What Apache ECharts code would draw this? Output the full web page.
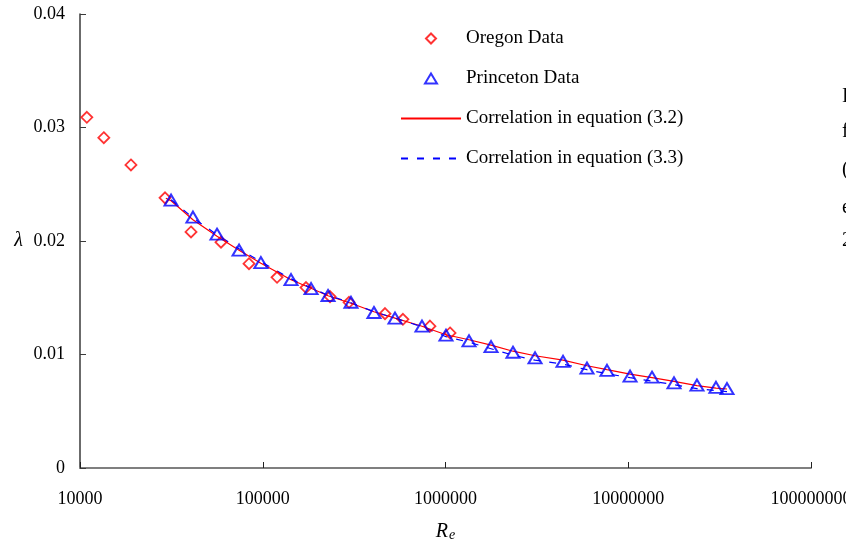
<!DOCTYPE html>
<html>
<head>
<meta charset="utf-8">
<script src="https://cdn.jsdelivr.net/npm/echarts@6/dist/echarts.min.js"></script>
<style>
  html, body { margin: 0; padding: 0; background: #fff; }
  #chart { width: 846px; height: 546px; }
</style>
</head>
<body>
<div id="chart"></div>
<script>
// Friction factor against Reynolds number (log x axis)
const xTickLabels = ['10000', '100000', '1000000', '10000000', '100000000'];
const yTickLabels = ['0', '0.01', '0.02', '0.03', '0.04'];

const seriesNames = [
  'Oregon Data',
  'Princeton Data',
  'Correlation in equation (3.2)',
  'Correlation in equation (3.3)'
];

const oregonRe = [10900, 13500, 19000, 29200, 40500, 59100, 84100, 119700, 172500,
  233400, 296500, 466600, 585000, 822000, 1059000];
const oregonLambda = [0.0309, 0.0291, 0.0267, 0.0238, 0.0208, 0.0199, 0.0180, 0.0168, 0.0159,
  0.0151, 0.0146, 0.0136, 0.0131, 0.0125, 0.0119];

const princetonRe = [31500, 41500, 56200, 74200, 97700, 142800, 183800, 227600, 304000,
  406000, 529300, 743700, 1006000, 1345000, 1775000, 2340000, 3090000, 4397000,
  5946000, 7650000, 10230000, 13490000, 17800000, 23770000, 30200000, 34700000];
const princetonLambda = [0.0236, 0.0221, 0.0206, 0.0192, 0.0181, 0.0166, 0.0158, 0.0152, 0.0146,
  0.0137, 0.0132, 0.0125, 0.0117, 0.0112, 0.0107, 0.0102, 0.0097, 0.0094,
  0.0088, 0.0086, 0.0081, 0.0080, 0.0075, 0.0073, 0.0071, 0.0070];

const eq32Re = [29500, 31500, 41500, 56200, 74200, 97700, 142800, 183800, 227600, 304000,
  406000, 529300, 743700, 1006000, 1345000, 1775000, 2340000, 3090000, 4397000,
  5946000, 7650000, 10230000, 13490000, 17800000, 23770000, 30200000, 34700000];
const eq32Lambda = [0.02376, 0.02354, 0.02187, 0.02041, 0.01918, 0.01804, 0.01658, 0.01584, 0.01518,
  0.01452, 0.01377, 0.0132, 0.01249, 0.01174, 0.0113, 0.01082, 0.01029, 0.00989, 0.0095,
  0.00901, 0.00866, 0.00827, 0.00796, 0.00763, 0.00725, 0.00703, 0.00696];

const eq33Re = princetonRe;
const eq33Lambda = [0.02363, 0.02205, 0.02055, 0.01931, 0.01817, 0.01667, 0.01588, 0.01522, 0.01456,
  0.01377, 0.0132, 0.01245, 0.01157, 0.01108, 0.01051, 0.00994, 0.0095, 0.00915,
  0.00866, 0.00831, 0.00796, 0.00765, 0.00734, 0.00699, 0.00681, 0.00673];

// Clipped text from the neighbouring column
const sideLetters = ['I', 'f', '(', 'e', '2'];
const sideLetterTops = [87, 122, 160, 198, 231];

const zip = (xs, ys) => xs.map((x, i) => [x, ys[i]]);
const FONT = '"Liberation Serif", "Times New Roman", serif';

const chart = echarts.init(document.getElementById('chart'), null, { renderer: 'canvas' });

const legendText = { fontFamily: FONT, fontSize: 19, color: '#000' };
const legendBase = { orient: 'vertical', padding: 0, selectedMode: false, itemGap: 0 };

chart.setOption({
  backgroundColor: '#fff',
  animation: false,
  textStyle: { fontFamily: FONT },
  grid: { left: 80, right: 35, top: 14, bottom: 78, containLabel: false, outerBoundsMode: 'none' },
  legend: [
    Object.assign({}, legendBase, {
      data: [seriesNames[0]], left: 425, top: 29, itemWidth: 10, itemHeight: 10,
      textStyle: Object.assign({}, legendText, { padding: [0, 0, 0, 25] })
    }),
    Object.assign({}, legendBase, {
      data: [seriesNames[1]], left: 424, top: 69, itemWidth: 12, itemHeight: 10,
      textStyle: Object.assign({}, legendText, { padding: [0, 0, 0, 24] })
    }),
    Object.assign({}, legendBase, {
      data: [seriesNames[2]], left: 400, top: 109, itemWidth: 60, itemHeight: 10,
      itemStyle: { opacity: 0 }, textStyle: legendText
    }),
    Object.assign({}, legendBase, {
      data: [seriesNames[3]], left: 400, top: 149, itemWidth: 60, itemHeight: 10,
      itemStyle: { opacity: 0 }, textStyle: legendText
    })
  ],
  xAxis: {
    type: 'log',
    logBase: 10,
    min: 10000,
    max: 100000000,
    name: '{r|R}{s|e}',
    nameLocation: 'middle',
    nameGap: 52,
    nameTextStyle: {
      rich: {
        r: { fontFamily: FONT, fontStyle: 'italic', fontSize: 20, color: '#000', verticalAlign: 'bottom', lineHeight: 22 },
        s: { fontFamily: FONT, fontStyle: 'italic', fontSize: 14, color: '#000', verticalAlign: 'bottom', lineHeight: 14, padding: [8, 0, 0, 1] }
      }
    },
    axisLine: { show: true, lineStyle: { color: '#7f7f7f', width: 2 } },
    axisTick: { show: true, inside: true, length: 6, lineStyle: { color: '#222', width: 1 } },
    minorTick: { show: false },
    splitLine: { show: false },
    axisLabel: {
      margin: 22,
      fontFamily: FONT,
      fontSize: 18,
      color: '#000',
      formatter: function (v) {
        const k = Math.round(Math.log10(v)) - 4;
        return xTickLabels[k] !== undefined ? xTickLabels[k] : '';
      }
    }
  },
  yAxis: {
    type: 'value',
    min: 0,
    max: 0.04,
    interval: 0.01,
    name: 'λ',
    nameLocation: 'middle',
    nameGap: 57,
    nameRotate: 0,
    nameTextStyle: { fontFamily: FONT, fontStyle: 'italic', fontSize: 20, color: '#000' },
    axisLine: { show: true, lineStyle: { color: '#3a3a3a', width: 1.5 } },
    axisTick: { show: true, inside: true, length: 6, lineStyle: { color: '#3a3a3a', width: 1 } },
    splitLine: { show: false },
    axisLabel: {
      margin: 15,
      fontFamily: FONT,
      fontSize: 18,
      color: '#000',
      formatter: function (v) {
        const k = Math.round(v / 0.01);
        return yTickLabels[k] !== undefined ? yTickLabels[k] : '';
      }
    }
  },
  series: [
    {
      name: seriesNames[2],
      type: 'line',
      data: zip(eq32Re, eq32Lambda),
      symbol: 'none',
      lineStyle: { color: '#ff0000', width: 1.2 },
      itemStyle: { color: '#ff0000' },
      z: 2
    },
    {
      name: seriesNames[3],
      type: 'line',
      data: zip(eq33Re, eq33Lambda),
      symbol: 'none',
      lineStyle: { color: '#0000ff', width: 1.2, type: [7, 9] },
      itemStyle: { color: '#0000ff' },
      z: 2
    },
    {
      name: seriesNames[0],
      type: 'scatter',
      data: zip(oregonRe, oregonLambda),
      symbol: 'diamond',
      symbolSize: 11,
      itemStyle: { color: 'rgba(255,255,255,0)', borderColor: '#ff0000', borderWidth: 1.8 },
      z: 3
    },
    {
      name: seriesNames[1],
      type: 'scatter',
      data: zip(princetonRe, princetonLambda),
      symbol: 'triangle',
      symbolSize: [13, 11],
      itemStyle: { color: 'rgba(255,255,255,0)', borderColor: '#0000ff', borderWidth: 2 },
      z: 4
    }
  ],
  graphic: sideLetters.map((ch, i) => ({
    type: 'text',
    left: 842,
    top: sideLetterTops[i],
    style: { text: ch, fontFamily: FONT, fontSize: 20, fill: '#000' }
  }))
});
</script>
</body>
</html>
